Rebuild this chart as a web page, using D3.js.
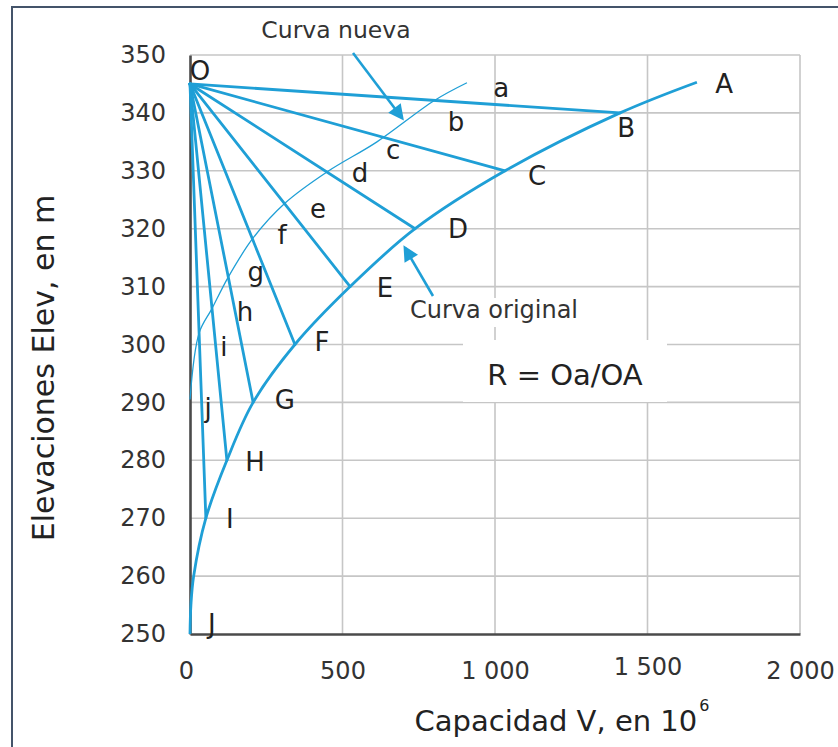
<!DOCTYPE html>
<html><head><meta charset="utf-8">
<script src="https://cdn.jsdelivr.net/npm/d3@7"></script>
<style>
html,body{margin:0;padding:0;background:#fff;}
svg{display:block;}
text{font-family:"DejaVu Sans",Verdana,sans-serif;}
</style></head>
<body>
<svg id="chart" width="838" height="747"></svg>
<script>
// ---- data ----
const xTicks = [0, 500, 1000, 1500, 2000];
const xTickLabels = ["0", "500", "1 000", "1 500", "2 000"];
const yTicks = [250, 260, 270, 280, 290, 300, 310, 320, 330, 340, 350];

// original capacity curve (V in 10^6, elevation in m)
const origV    = [0, 3, 12, 52, 121, 207, 344, 525, 738, 1033, 1410, 1662];
const origElev = [250, 255, 260, 270, 280, 290, 300, 310, 320, 330, 340, 345.3];

// new curve (reduced)
const newV    = [0, 30, 72, 125, 207, 311, 449, 613, 800, 908];
const newElev = [290.5, 302, 306.2, 311.6, 318.4, 324.4, 329.8, 335, 342.1, 345.2];

// origin O and the points joined to it
const originPoint = [0, 345];
const rayNames = ["B", "C", "D", "E", "F", "G", "H", "I"];
const rayV     = [1410, 1033, 738, 525, 344, 207, 121, 52];
const rayElev  = [340, 330, 320, 310, 300, 290, 280, 270];

// point labels (data coordinates)
const upperNames = ["O", "A", "B", "C", "D", "E", "F", "G", "H", "I", "J"];
const upperLabV  = [33, 1751, 1430, 1138, 879, 639, 433, 311, 213, 131, 72];
const upperLabE  = [347.2, 345.0, 337.4, 329.1, 319.9, 309.8, 300.4, 290.4, 279.7, 269.9, 251.7];
const lowerNames = ["a", "b", "c", "d", "e", "f", "g", "h", "i", "j"];
const lowerLabV  = [1020, 872, 666, 557, 420, 302, 216, 180, 111, 59];
const lowerLabE  = [344.3, 338.4, 333.6, 329.6, 323.4, 318.9, 312.5, 305.6, 299.6, 289.0];

// ---- chart ----
const svg = d3.select("#chart");
const blue = "#1f9fd6";
const x = d3.scaleLinear().domain([0, 2000]).range([190, 800]);
const y = d3.scaleLinear().domain([250, 350]).range([634, 55]);

// frame
svg.append("rect").attr("x", 12).attr("y", 7).attr("width", 900).attr("height", 900)
  .attr("fill", "#fff").attr("stroke", "#44546a").attr("stroke-width", 2);

// grid
const grid = svg.append("g");
grid.selectAll(".gx").data(xTicks.slice(1)).join("line")
  .attr("x1", d => x(d)).attr("x2", d => x(d)).attr("y1", y(350)).attr("y2", y(250))
  .attr("stroke", "#c6c6c6").attr("stroke-width", 1.6);
grid.selectAll(".gy").data(yTicks.slice(1)).join("line")
  .attr("x1", x(0)).attr("x2", x(2000)).attr("y1", d => y(d)).attr("y2", d => y(d))
  .attr("stroke", "#c6c6c6").attr("stroke-width", 1.6);

// axes
const xAxis = d3.axisBottom(x).tickValues(xTicks).tickSize(0).tickPadding(28)
  .tickFormat((d, i) => xTickLabels[i]);
const gx = svg.append("g").attr("transform", `translate(0,${y(250)})`).call(xAxis);
gx.select(".domain").attr("stroke", "#4a4a4a").attr("stroke-width", 2.6);
gx.selectAll("text").attr("font-size", 24).attr("fill", "#333")
  .attr("font-family", "DejaVu Sans, Verdana, sans-serif");
gx.selectAll(".tick").filter(d => d === 0).select("text").attr("dx", -4);
gx.selectAll(".tick").filter(d => d === 1500).select("text").attr("y", 24);

const yAxis = d3.axisLeft(y).tickValues(yTicks).tickSize(0).tickPadding(24);
const gy = svg.append("g").attr("transform", `translate(${x(0)},0)`).call(yAxis);
gy.select(".domain").attr("stroke", "#4a4a4a").attr("stroke-width", 2.6);
gy.selectAll("text").attr("font-size", 24).attr("fill", "#333")
  .attr("font-family", "DejaVu Sans, Verdana, sans-serif");

// label backgrounds
svg.append("rect").attr("x", 463).attr("y", 340).attr("width", 204).attr("height", 62).attr("fill", "#fff");
svg.append("rect").attr("x", 402).attr("y", 298).attr("width", 186).attr("height", 29).attr("fill", "#fff");

// rays from O
const rays = rayNames.map((n, i) => ({ v: rayV[i], e: rayElev[i] }));
svg.append("g").selectAll("line").data(rays).join("line")
  .attr("x1", x(originPoint[0])).attr("y1", y(originPoint[1]))
  .attr("x2", d => x(d.v)).attr("y2", d => y(d.e))
  .attr("stroke", blue).attr("stroke-width", 2.8).attr("stroke-linecap", "round");

// original curve
const line = d3.line().x(d => x(d[0])).y(d => y(d[1])).curve(d3.curveCatmullRom.alpha(0.5));
svg.append("path").datum(origV.map((v, i) => [v, origElev[i]]))
  .attr("d", line).attr("fill", "none").attr("stroke", blue).attr("stroke-width", 2.8);

// new curve
svg.append("path").datum(newV.map((v, i) => [v, newElev[i]]))
  .attr("d", line).attr("fill", "none").attr("stroke", blue).attr("stroke-width", 1.3);

// point labels
const lab = svg.append("g").attr("font-size", 26).attr("fill", "#222");
upperNames.forEach((n, i) => {
  lab.append("text").attr("x", x(upperLabV[i])).attr("y", y(upperLabE[i]))
    .attr("text-anchor", "middle").attr("dominant-baseline", "central")
    .attr("font-family", (n === "I" || n === "J") ? "DejaVu Sans Mono, monospace" : null)
    .text(n);
});
lowerNames.forEach((n, i) => {
  lab.append("text").attr("x", x(lowerLabV[i])).attr("y", y(lowerLabE[i]))
    .attr("text-anchor", "middle").attr("dominant-baseline", "central").text(n);
});

// arrow marker
svg.append("defs").append("marker").attr("id", "arr").attr("viewBox", "0 0 10 10")
  .attr("refX", 8).attr("refY", 5).attr("markerWidth", 6.5).attr("markerHeight", 6)
  .attr("markerUnits", "strokeWidth").attr("orient", "auto")
  .append("path").attr("d", "M0,0 L10,5 L0,10 Z").attr("fill", blue);

// annotations
svg.append("text").attr("x", 336).attr("y", 38).attr("text-anchor", "middle")
  .attr("font-size", 23.5).attr("fill", "#333").text("Curva nueva");
svg.append("line").attr("x1", 353).attr("y1", 53).attr("x2", 402).attr("y2", 118)
  .attr("stroke", blue).attr("stroke-width", 2.6).attr("marker-end", "url(#arr)");

svg.append("text").attr("x", 494).attr("y", 318).attr("text-anchor", "middle")
  .attr("font-size", 24).attr("fill", "#333").text("Curva original");
svg.append("line").attr("x1", 433).attr("y1", 296).attr("x2", 405).attr("y2", 248)
  .attr("stroke", blue).attr("stroke-width", 2.6).attr("marker-end", "url(#arr)");

svg.append("text").attr("x", 565).attr("y", 385).attr("text-anchor", "middle")
  .attr("font-size", 29).attr("fill", "#222").text("R = Oa/OA");

// axis titles
svg.append("text").attr("transform", "translate(54,368) rotate(-90)")
  .attr("text-anchor", "middle").attr("font-size", 30).attr("fill", "#222")
  .text("Elevaciones Elev, en m");
const xt = svg.append("text").attr("x", 562).attr("y", 731).attr("text-anchor", "middle")
  .attr("font-size", 29).attr("fill", "#222");
xt.append("tspan").text("Capacidad V, en 10");
xt.append("tspan").attr("font-size", 16).attr("dy", -20).attr("dx", 2).text("6");
</script>
</body></html>
